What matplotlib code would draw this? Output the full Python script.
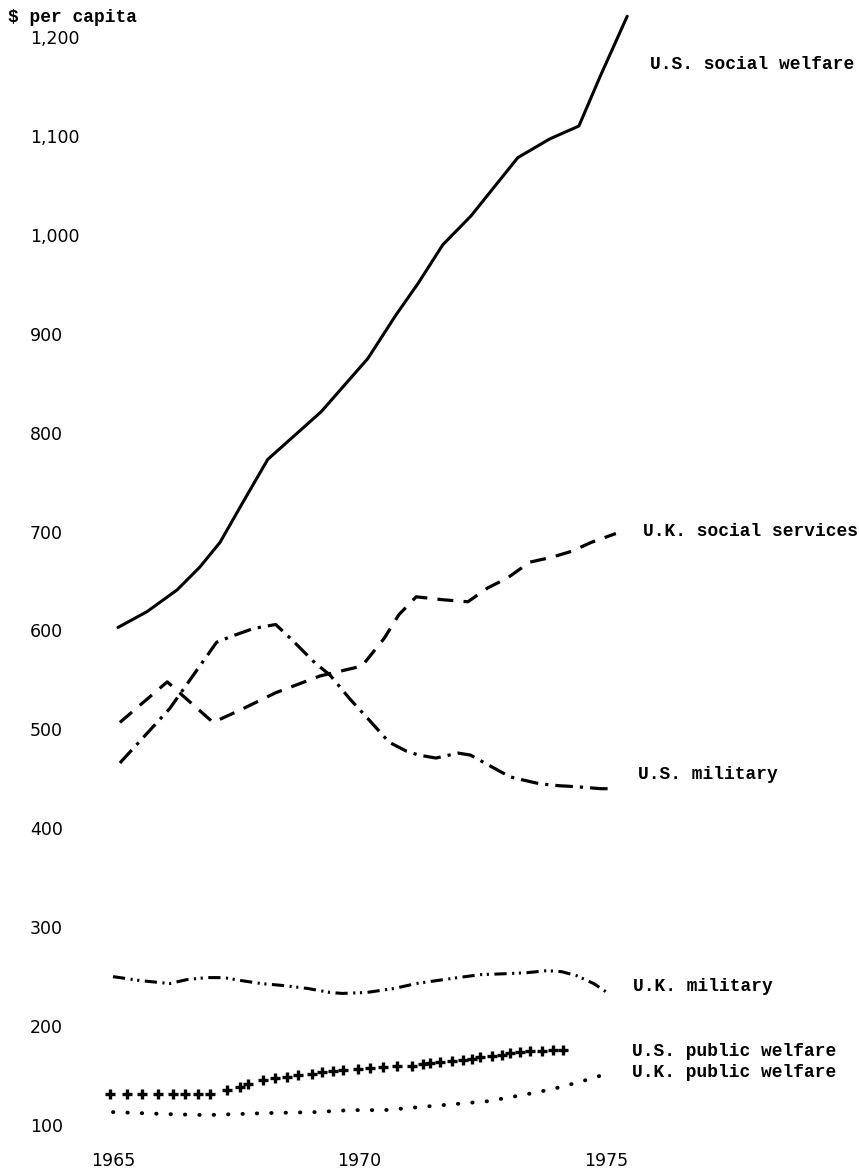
import matplotlib
matplotlib.use('Agg')
import matplotlib.pyplot as plt

# Valeurs ($ par habitant)
us_social_years = [1965.10, 1965.69, 1966.30, 1966.76, 1967.17, 1967.64, 1968.14, 1969.22, 1970.17,
                   1970.74, 1971.19, 1971.69, 1972.26, 1973.21, 1973.86, 1974.45, 1974.88, 1975.43]
us_social_vals = [603, 619, 641, 664, 689, 730, 773, 821, 875,
                  919, 951, 990, 1019, 1078, 1097, 1110, 1160, 1221]

uk_social_years = [1965.14, 1966.10, 1967.03, 1967.60, 1968.30, 1969.20, 1970.05, 1970.50, 1970.80,
                   1971.15, 1971.70, 1972.20, 1972.60, 1973.00, 1973.45, 1973.90, 1974.30, 1974.70, 1975.20]
uk_social_vals = [507, 548, 507, 520, 537, 554, 564, 592, 616,
                  634, 631, 629, 643, 653, 669, 674, 680, 689, 698]

us_mil_years = [1965.14, 1965.60, 1966.15, 1966.76, 1967.10, 1967.40, 1967.85, 1968.30, 1968.60,
                1969.10, 1969.40, 1969.80, 1970.15, 1970.60, 1970.95, 1971.20, 1971.55, 1972.00,
                1972.25, 1972.65, 1973.05, 1973.30, 1973.65, 1974.05, 1974.40, 1974.90, 1975.10]
us_mil_vals = [466, 491, 521, 564, 588, 594, 602, 606, 592,
               567, 555, 531, 512, 487, 478, 474, 471, 476,
               474, 463, 452, 449, 445, 443, 442, 440, 440]

uk_mil_years = [1965.00, 1965.55, 1966.15, 1966.50, 1966.90, 1967.25, 1967.60, 1968.00, 1968.45,
                1968.95, 1969.40, 1969.65, 1970.15, 1970.70, 1971.15, 1971.85, 1972.45, 1973.00,
                1973.40, 1973.80, 1974.10, 1974.40, 1974.75, 1975.05]
uk_mil_vals = [250, 246, 243, 247, 249, 249, 246, 243, 241,
               238, 234, 233, 234, 238, 243, 248, 252, 253,
               254, 256, 255, 251, 243, 233]

# chaque croix du graphique
us_pub_years = [1964.94, 1965.28, 1965.59, 1965.91, 1966.22, 1966.46, 1966.72, 1966.97, 1967.31,
                1967.58, 1967.74, 1968.04, 1968.29, 1968.53, 1968.75, 1969.04, 1969.24, 1969.46,
                1969.67, 1969.97, 1970.21, 1970.48, 1970.76, 1971.06, 1971.29, 1971.43, 1971.63,
                1971.88, 1972.10, 1972.28, 1972.44, 1972.69, 1972.89, 1973.05, 1973.26, 1973.46,
                1973.70, 1973.92, 1974.13]
us_pub_vals = [131, 131, 131, 131, 131, 131, 131, 131, 135,
               138, 141, 145, 148, 149, 151, 152, 154, 155,
               156, 157, 158, 159, 160, 160, 162, 163, 164,
               165, 166, 167, 169, 170, 171, 173, 174, 175,
               175, 176, 176]

uk_pub_years = [1965.00, 1966.10, 1966.90, 1968.10, 1969.10, 1969.80, 1970.50, 1971.20, 1971.90,
                1972.60, 1973.05, 1973.60, 1974.05, 1974.50, 1974.90, 1975.10]
uk_pub_vals = [113, 111, 110, 112, 113, 115, 115, 118, 121,
               124, 128, 133, 138, 144, 150, 152]

yticks = [100, 200, 300, 400, 500, 600, 700, 800, 900, 1000, 1100, 1200]
ytick_labels = ['100', '200', '300', '400', '500', '600', '700', '800', '900', '1,000', '1,100', '1,200']
xticks = [1965, 1970, 1975]

fig = plt.figure(figsize=(8.59, 11.75), dpi=100)
ax = fig.add_axes([0.07416, 0.02153, 0.91828, 0.97223])
ax.set_xlim(1964, 1980)
ax.set_ylim(75, 1230)
for s in ax.spines.values():
    s.set_visible(False)

ax.plot(us_social_years, us_social_vals, color='black', lw=2.2, solid_capstyle='round')
ax.plot(uk_social_years, uk_social_vals, color='black', lw=2.3, linestyle=(0, (5, 3.2)))
ax.plot(us_mil_years, us_mil_vals, color='black', lw=2.3, linestyle=(0, (5.5, 2.2, 1, 2.2)))
ax.plot(uk_mil_years, uk_mil_vals, color='black', lw=2.2, linestyle=(0, (4, 1.8, 0.7, 1.5, 0.7, 1.8)))
ax.plot(us_pub_years, us_pub_vals, linestyle='none', marker='+', ms=7.5, mew=2.4, color='black')
ax.plot(uk_pub_years, uk_pub_vals, color='black', lw=2.8, linestyle=(0, (0.1, 3.6)), dash_capstyle='round')

# étiquettes des séries (police machine à écrire)
lab = dict(fontsize=12.9, family='Liberation Mono', weight='bold', va='center', ha='left')
ax.text(1975.89, 1172, 'U.S. social welfare', **lab)
ax.text(1975.75, 700, 'U.K. social services', **lab)
ax.text(1975.65, 454, 'U.S. military', **lab)
ax.text(1975.55, 240, 'U.K. military', **lab)
ax.text(1975.53, 174, 'U.S. public welfare', **lab)
ax.text(1975.53, 153, 'U.K. public welfare', **lab)

fig.text(8/859, 1-17/1175, '$ per capita', fontsize=12.9, family='Liberation Mono',
         weight='bold', va='center', ha='left')

ax.set_yticks(yticks)
ax.set_yticklabels(ytick_labels, fontsize=12.5)
for t in ax.get_yticklabels():
    t.set_horizontalalignment('left')
ax.tick_params(axis='y', length=0, pad=24.3)
ax.set_xticks(xticks)
ax.set_xticklabels([str(x) for x in xticks], fontsize=12.5)
ax.tick_params(axis='x', length=0, pad=2)

fig.savefig('out.png', dpi=100)
